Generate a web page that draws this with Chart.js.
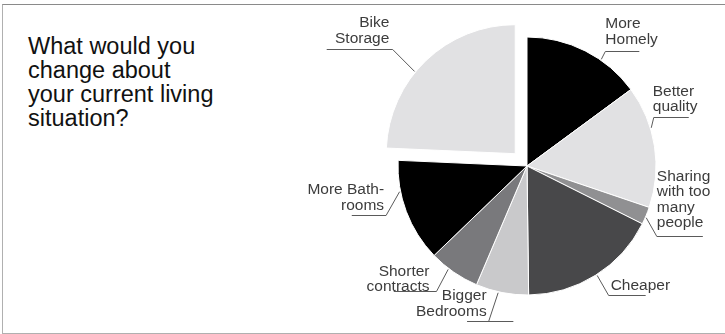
<!DOCTYPE html>
<html>
<head>
<meta charset="utf-8">
<script src="https://cdn.jsdelivr.net/npm/chart.js@4.4.1/dist/chart.umd.min.js"></script>
<style>
  html, body { margin: 0; padding: 0; background: #fff; }
  #wrap { position: relative; width: 725px; height: 334px; overflow: hidden; }
  #frame {
    position: absolute; left: 2px; top: 4px; width: 800px; height: 328px;
    border-top: 1px solid #8a8a8a; border-left: 1px solid #b0b0b0; border-bottom: 1px solid #b0b0b0;
  }
  #title {
    position: absolute; left: 28px; top: 34px;
    font: 23.5px/24px "Liberation Sans", Arial, sans-serif; color: #111;
  }
  canvas { position: absolute; left: 0; top: 0; }
</style>
</head>
<body>
<div id="wrap">
  <div id="frame"></div>
  <div id="title">What would you<br>change about<br>your current living<br>situation?</div>
  <canvas id="pie" width="725" height="334"></canvas>
</div>
<script>
// Réponses au sondage (part en %)
const categories = [
  ['More', 'Homely'],
  ['Better', 'quality'],
  ['Sharing', 'with too', 'many', 'people'],
  ['Cheaper'],
  ['Bigger', 'Bedrooms'],
  ['Shorter', 'contracts'],
  ['More Bath-', 'rooms'],
  ['Bike', 'Storage']
];
const shares = [14.9, 15.3, 2.2, 17.4, 6.6, 6.4, 12.9, 24.3];
const sliceColors = ['#000000', '#e1e1e3', '#909092', '#48484a', '#c9c9cb', '#79797c', '#000000', '#e1e1e3'];
const pulledOut = [0, 0, 0, 0, 0, 0, 0, 68];

// Placement des étiquettes : point de départ sur l'arc, coude, soulignement, texte
const callouts = [
  { at: 0.65, dx: 4, dy: -8.4, left: 0, right: 34, align: 'left', tx: 0, lift: 8 },
  { at: 0.35, dx: 2.5, dy: -10.5, left: 0, right: 35, align: 'left', tx: -1, lift: 6.5 },
  { at: 0.6, dx: 10.6, dy: 18.4, left: 0, right: 46, align: 'left', tx: 0, lift: 9.4 },
  { at: 0.49, dx: 11.5, dy: 19.9, left: 0, right: 37, align: 'left', tx: 2, lift: 5.5 },
  { at: 0.57, dx: -9.5, dy: 28.4, left: 21.6, right: 24.7, align: 'right', tx: -2, lift: 6 },
  { at: 0.62, dx: -11.7, dy: 21.5, left: 42.7, right: 0, align: 'right', tx: -7, lift: 0.5 },
  { at: 0.7, dx: -13.5, dy: 23.1, left: 34.3, right: 0, align: 'right', tx: -2, lift: 6 },
  { at: 0.42, dx: -21.9, dy: -22.3, left: 66, right: 0, align: 'right', tx: -3.4, lift: 6.6 }
];
const lineH = 15.5;

const calloutPlugin = {
  id: 'callouts',
  afterDatasetsDraw(chart) {
    const ctx = chart.ctx;
    const arcs = chart.getDatasetMeta(0).data;
    const labels = chart.data.labels;
    ctx.save();
    ctx.font = '15.5px "Liberation Sans", Arial, sans-serif';
    ctx.lineWidth = 1;
    arcs.forEach((arc, i) => {
      const p = arc.getProps(['x', 'y', 'startAngle', 'endAngle', 'outerRadius'], true);
      const c = callouts[i];
      const half = (p.startAngle + p.endAngle) / 2;
      const shift = (arc.options.offset || 0) / 4;
      const cx = p.x + Math.cos(half) * shift;
      const cy = p.y + Math.sin(half) * shift;
      const a = p.startAngle + (p.endAngle - p.startAngle) * c.at;
      const r = p.outerRadius + 1;
      const sx = cx + Math.cos(a) * r;
      const sy = cy + Math.sin(a) * r;
      const ex = sx + c.dx;
      const ey = Math.round(sy + c.dy) + 0.5;

      ctx.strokeStyle = '#5a5a5a';
      ctx.beginPath();
      ctx.moveTo(sx, sy);
      ctx.lineTo(ex, ey);
      ctx.moveTo(ex - c.left, ey);
      ctx.lineTo(ex + c.right, ey);
      ctx.stroke();

      const lines = labels[i];
      ctx.fillStyle = '#3c3c3c';
      ctx.textAlign = c.align;
      ctx.textBaseline = 'alphabetic';
      const last = ey - c.lift;
      lines.forEach((t, k) => {
        ctx.fillText(t, ex + c.tx, last - (lines.length - 1 - k) * lineH);
      });
    });
    ctx.restore();
  }
};

new Chart(document.getElementById('pie').getContext('2d'), {
  type: 'pie',
  data: {
    labels: categories,
    datasets: [{
      data: shares,
      backgroundColor: sliceColors,
      borderColor: '#ffffff',
      borderWidth: 1,
      offset: pulledOut,
      hoverOffset: 0
    }]
  },
  options: {
    responsive: false,
    animation: false,
    events: [],
    radius: 129,
    layout: { padding: { left: 389, right: 60, top: 28, bottom: 30 } },
    plugins: {
      legend: { display: false },
      tooltip: { enabled: false }
    }
  },
  plugins: [calloutPlugin]
});
</script>
</body>
</html>
